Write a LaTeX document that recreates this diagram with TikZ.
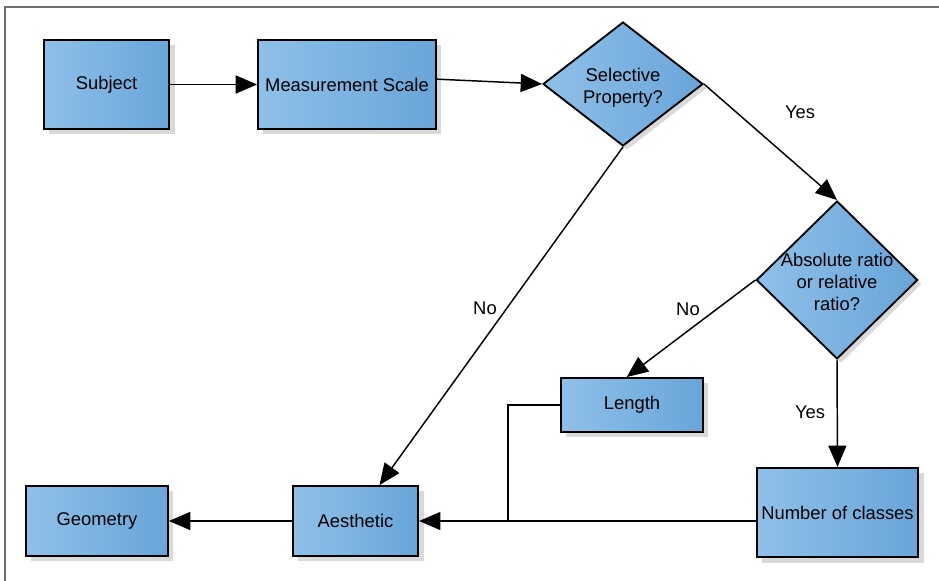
\documentclass[tikz,border=0pt]{standalone}
\usepackage{fontspec}
\setmainfont{Liberation Sans}
\usetikzlibrary{arrows.meta,shapes.geometric,shadows}
\definecolor{boxleft}{HTML}{8FC0E9}
\definecolor{boxright}{HTML}{69A5D9}
\definecolor{shadowgray}{HTML}{D9D9D9}
\definecolor{framegray}{HTML}{6E6E6E}
\newcommand{\dtext}[1]{\makebox[0pt]{\smash{\raisebox{-6.5pt}{\begin{tabular}{@{}c@{}}#1\end{tabular}}}}}
\begin{document}
\begin{tikzpicture}
	[x=0.75pt,y=-0.75pt,
	 line width=1.1pt,
	 every node/.style={font=\fontsize{13.8}{16.5}\selectfont},
	 stepbox/.style={shape=rectangle,draw,line width=1.4pt,inner sep=0pt,
	   left color=boxleft,right color=boxright,
	   drop shadow={shadow xshift=4pt,shadow yshift=-4pt,fill=shadowgray,opacity=1}},
	 choice/.style={shape=diamond,draw,line width=1.4pt,inner sep=0pt,
	   left color=boxleft,right color=boxright,
	   drop shadow={shadow xshift=3pt,shadow yshift=-3pt,fill=shadowgray,opacity=1}},
	 flow/.style={-{Triangle[length=16pt,width=13.5pt]}},
	 lbl/.style={inner sep=0pt}]
	\useasboundingbox (0,0) rectangle (939,581);
	\draw[framegray,line width=1.2pt] (5,581) -- (5,7) -- (939,7);
	% top row
	\node[stepbox,minimum width=94pt,minimum height=67pt] (subj) at (106.5,84.5) {Subject};
	\node[stepbox,minimum width=133.5pt,minimum height=67pt] (meas) at (347,84.5) {Measurement Scale};
	\node[choice,minimum width=120pt,minimum height=93pt] (sel) at (623,84) {\dtext{Selective\\Property?}};
	% right column
	\node[choice,minimum width=121pt,minimum height=118.5pt] (absr) at (837,280) {\dtext{Absolute ratio\\or relative\\ratio?}};
	\node[stepbox,minimum width=106.5pt,minimum height=40.5pt] (len) at (632,405) {Length};
	\node[stepbox,minimum width=121pt,minimum height=67pt] (num) at (837.5,512.5) {Number of classes};
	% bottom row
	\node[stepbox,minimum width=106.5pt,minimum height=52.5pt] (geo) at (97,521) {Geometry};
	\node[stepbox,minimum width=94pt,minimum height=52.5pt] (aes) at (355.5,521) {Aesthetic};
	\coordinate (jn) at (508,521);
	% connectors
	\draw[flow] (subj) -- (meas);
	\draw[flow] ([yshift=4pt]meas.east) -- (sel.west);
	\draw[flow] (sel.east) -- (absr.north);
	\draw[flow] (sel.south) -- ([xshift=18pt]aes.north);
	\draw[flow] (absr.west) -- ([xshift=-4pt]len.north);
	\draw[flow] (absr.south) -- (num.north);
	\draw[flow] (aes.east -| num.west) -- (aes.east);
	\draw (len.west) -| (jn);
	\draw[flow] (aes) -- (geo);
	% labels
	\node[lbl] (yesa) at (800,112) {Yes};
	\node[lbl] (noa) at (485,308) {No};
	\node[lbl] (nob) at (688,309) {No};
	\node[lbl] (yesb) at (810,412) {Yes};
\end{tikzpicture}
\end{document}
